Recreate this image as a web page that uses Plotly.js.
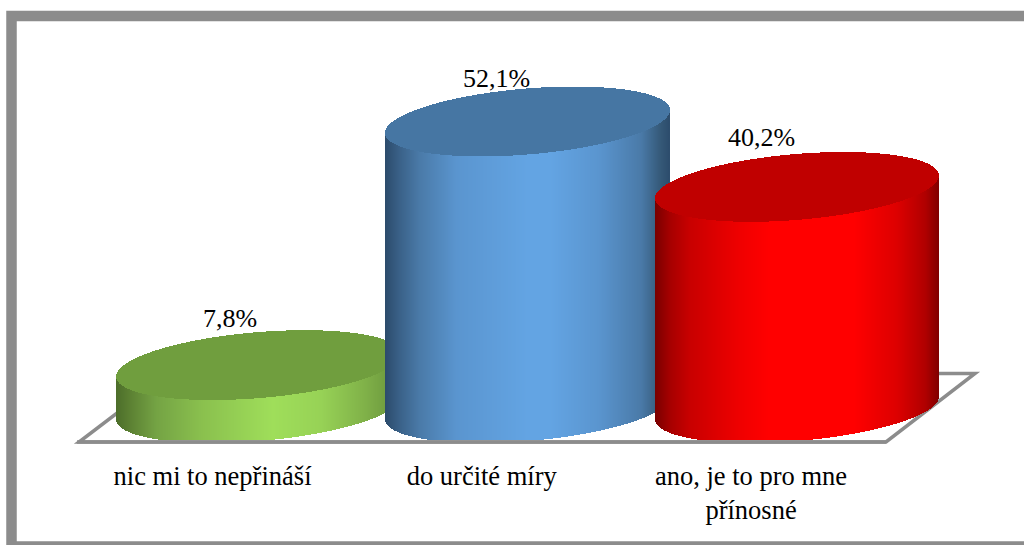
<!DOCTYPE html>
<html>
<head>
<meta charset="utf-8">
<script src="https://cdn.plot.ly/plotly-3.0.1.min.js"></script>
<style>html,body{margin:0;padding:0;background:#fff;overflow:hidden}#c{width:1024px;height:545px}</style>
</head>
<body>
<div id="c"></div>
<script>
// --- data ---
const categories = ['nic mi to nepřináší', 'do určité míry', 'ano, je to pro mne<br>přínosné'];
const values = [7.8, 52.1, 40.2];
const valueLabels = ['7,8%', '52,1%', '40,2%'];

// --- styles ---
const topColors = ['#709e3e', '#4676a3', '#c00000'];
const shadeStops = [
  [[0,'#4d6e2a'],[.06,'#5f8535'],[.14,'#74a344'],[.3,'#8ac04e'],[.55,'#9fde5a'],[.72,'#97d256'],[.88,'#7fb048'],[1,'#66903a']],
  [[0,'#2c4c6c'],[.05,'#3a6188'],[.12,'#4a7aa8'],[.25,'#5a95cf'],[.5,'#63a4e3'],[.58,'#63a4e3'],[.75,'#5a95cf'],[.9,'#4a7aa8'],[.97,'#345877'],[1,'#2c4c6c']],
  [[0,'#7a0000'],[.05,'#a50000'],[.12,'#c80000'],[.3,'#f00000'],[.4,'#ff0000'],[.7,'#ff0000'],[.85,'#dd0000'],[.95,'#b00000'],[1,'#7e0000']]
];
const serif = '"Liberation Serif", "Times New Roman", serif';
const frameColor = '#8c8c8c';

// --- scale of the drawing: pixel placement of the axes ---
const W = 1024, H = 545, plotBottom = 440;
const pxPerCat = 269.25, cat0 = 258.5;   // pixel x of category index 0
const pxPerVal = 5.5, val0 = 408;   // pixel y of value 0
const radiusPx = 142, shearPx = 11.4, depthPx = 33; // projected cylinder ellipse
const xr = [-cat0 / pxPerCat, (W - cat0) / pxPerCat];
const yr = [-(plotBottom - val0) / pxPerVal, val0 / pxPerVal];

function hex(c){return [1,3,5].map(i=>parseInt(c.substr(i,2),16));}
function shade(stops,f){
  for(let i=1;i<stops.length;i++){
    if(f<=stops[i][0]){
      const a=stops[i-1],b=stops[i],t=(f-a[0])/(b[0]-a[0]||1),ca=hex(a[1]),cb=hex(b[1]);
      return 'rgb('+ca.map((v,k)=>Math.round(v+(cb[k]-v)*t)).join(',')+')';
    }
  }
  return stops[stops.length-1][1];
}

const stepCat = 1 / pxPerCat;
const traces = [];
values.forEach((v,i)=>{
  const xs=[],bodyBase=[],bodyH=[],bodyCol=[],topBase=[],topH=[];
  for(let p=-radiusPx;p<radiusPx;p++){
    const c=(p+0.5)/radiusPx, u=Math.max(-1,Math.min(1,c)), s=Math.sqrt(1-u*u);
    const lean=shearPx*u/pxPerVal, half=depthPx*s/pxPerVal;
    xs.push(i+(p+0.5)*stepCat);
    bodyBase.push(lean-half);
    bodyH.push(v);
    bodyCol.push(shade(shadeStops[i],(p+radiusPx)/(2*radiusPx)));
    topBase.push(v+lean-half);
    topH.push(2*half);
  }
  traces.push({type:'bar',x:xs,y:bodyH,base:bodyBase,width:stepCat*1.6,opacity:1,
    marker:{color:bodyCol,opacity:1,line:{width:0}},hoverinfo:'skip',showlegend:false});
  traces.push({type:'bar',x:xs,y:topH,base:topBase,width:stepCat*1.6,opacity:1,
    marker:{color:topColors[i],opacity:1,line:{width:0}},hoverinfo:'skip',showlegend:false});
});

const px=x=>x/W, py=y=>(plotBottom-y)/plotBottom;
function path(pts,close){
  return pts.map((q,k)=>(k?'L':'M')+px(q[0])+','+py(q[1])).join(' ')+(close?' Z':'');
}
const shapes=[
  {type:'path',xref:'paper',yref:'paper',layer:'below',path:path([[79,442],[886,442],[975,373.5],[169,373.5]],true),
   line:{color:frameColor,width:3.5},fillcolor:'rgba(0,0,0,0)'},
  {type:'path',xref:'paper',yref:'paper',layer:'above',path:path([[77,442],[886,442]],false),
   line:{color:frameColor,width:3.5}},
  {type:'path',xref:'paper',yref:'paper',layer:'above',path:path([[11.5,16],[1034,16],[1034,546.5],[11.5,546.5]],true),
   line:{color:frameColor,width:10.5},fillcolor:'rgba(0,0,0,0)'}
];

const labelNudge=[[-29,47],[-31,43],[-36,49]];
const annotations=values.map((v,i)=>({
  x:i,y:v,xref:'x',yref:'y',text:valueLabels[i],showarrow:false,
  xshift:labelNudge[i][0],yshift:labelNudge[i][1],
  font:{family:serif,size:26,color:'#000'}
}));

Plotly.newPlot('c',traces,{
  width:W,height:H,
  margin:{l:0,r:0,t:0,b:H-plotBottom,pad:0},
  paper_bgcolor:'#fff',plot_bgcolor:'rgba(0,0,0,0)',
  barmode:'overlay',bargap:0,bargroupgap:0,showlegend:false,
  xaxis:{range:xr,showgrid:false,zeroline:false,showline:false,
    tickmode:'array',tickvals:[0,1,2].map(i=>i-46/pxPerCat),ticktext:categories,tickangle:0,
    ticks:'outside',ticklen:12,tickcolor:'rgba(0,0,0,0)',
    tickfont:{family:serif,size:26.5,color:'#000'}},
  yaxis:{range:yr,visible:false},
  shapes:shapes,annotations:annotations
},{displayModeBar:false,staticPlot:true});
</script>
</body>
</html>
